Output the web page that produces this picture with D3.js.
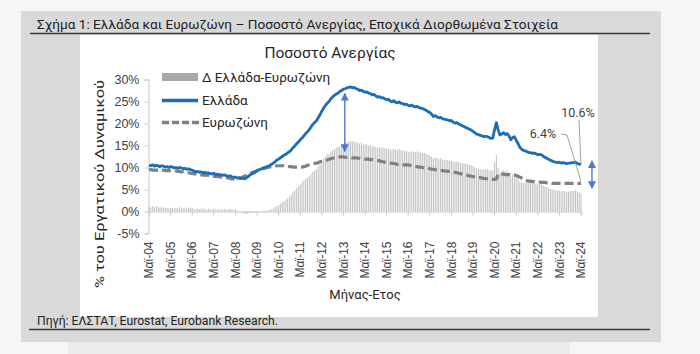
<!DOCTYPE html>
<html>
<head>
<meta charset="utf-8">
<script src="https://cdn.jsdelivr.net/npm/d3@7"></script>
<style>
	body { margin: 0; background: #f6f6f6; }
	svg { display: block; font-family: Roboto, "Noto Sans", sans-serif; }
</style>
</head>
<body>
<svg id="chart" width="700" height="354"></svg>
<script>
// Monthly, seasonally adjusted, May 2004 - May 2024
const greece = [
	10.5, 10.4, 10.6, 10.3, 10.5, 10.4, 10.2, 10.4, // 2004 May-Dec
	10.3, 10.1, 10.2, 10.0, 10.2, 10.1, 9.9, 10.0, 9.8, 10.0, 9.9, 9.7, // 2005
	9.8, 9.6, 9.7, 9.5, 9.4, 9.2, 9.0, 9.1, 8.9, 9.0, 8.8, 8.9, // 2006
	8.7, 8.8, 8.6, 8.5, 8.7, 8.4, 8.5, 8.3, 8.4, 8.2, 8.3, 8.1, // 2007
	8.0, 8.1, 7.9, 7.8, 7.8, 7.6, 7.7, 7.5, 7.6, 7.4, 7.6, 7.9, // 2008
	8.3, 8.5, 8.7, 8.9, 9.3, 9.5, 9.6, 9.8, 10.0, 10.1, 10.3, 10.4, // 2009
	10.7, 11.0, 11.3, 11.7, 11.9, 12.2, 12.5, 12.8, 13.0, 13.3, 13.6, 14.0, // 2010
	14.5, 14.9, 15.4, 15.8, 16.3, 16.7, 17.2, 17.7, 18.1, 18.6, 19.2, 19.8, // 2011
	20.2, 20.6, 21.3, 22.0, 22.8, 23.5, 24.1, 24.6, 25.0, 25.6, 26.0, 26.4, // 2012
	26.7, 26.9, 27.3, 27.5, 27.8, 27.9, 28.1, 28.2, 28.3, 28.1, 28.2, 27.9, // 2013
	27.8, 27.5, 27.6, 27.3, 27.1, 27.2, 26.9, 26.8, 26.5, 26.6, 26.3, 26.0, // 2014
	26.1, 25.8, 25.9, 25.6, 25.4, 25.5, 25.1, 24.9, 25.2, 24.8, 24.7, 24.9, // 2015
	24.6, 24.5, 24.3, 24.4, 24.1, 24.0, 24.2, 23.9, 23.8, 23.9, 23.6, 23.5, // 2016
	23.4, 23.2, 23.0, 22.7, 22.5, 22.1, 21.6, 21.8, 21.5, 21.3, 21.4, 21.1, // 2017
	21.0, 20.9, 20.8, 20.6, 20.7, 20.3, 20.1, 20.2, 19.9, 19.7, 19.5, 19.3, // 2018
	19.1, 18.9, 18.7, 18.5, 18.2, 17.9, 17.6, 17.5, 17.3, 17.2, 17.0, 17.1, // 2019
	17.0, 16.8, 16.6, 16.7, 18.6, 20.2, 18.5, 17.4, 17.6, 17.9, 17.5, 17.7, // 2020
	17.2, 16.3, 16.8, 17.0, 16.2, 15.5, 14.6, 14.2, 13.9, 13.8, 13.6, 13.4, // 2021
	13.4, 13.2, 13.3, 13.1, 12.9, 13.0, 12.9, 12.6, 12.3, 12.1, 11.9, 11.6, // 2022
	11.5, 11.3, 11.2, 11.1, 11.2, 11.0, 11.1, 11.0, 10.9, 11.0, 11.0, 11.1, // 2023
	11.1, 11.2, 10.9, 10.8, 10.6 // 2024 Jan-May
];

const eurozone = [
	9.5, 9.5, 9.4, 9.4, 9.4, 9.4, 9.3, 9.4, // 2004 May-Dec
	9.4, 9.3, 9.3, 9.3, 9.3, 9.3, 9.2, 9.2, 9.1, 9.1, 9.0, 9.0, // 2005
	8.9, 8.9, 8.8, 8.7, 8.6, 8.6, 8.5, 8.4, 8.4, 8.3, 8.3, 8.2, // 2006
	8.3, 8.2, 8.1, 8.1, 8.0, 8.0, 7.9, 7.9, 7.8, 7.8, 7.7, 7.7, // 2007
	7.6, 7.5, 7.4, 7.4, 7.3, 7.4, 7.5, 7.6, 7.8, 8.0, 8.2, 8.4, // 2008
	8.6, 8.8, 9.0, 9.1, 9.2, 9.4, 9.5, 9.7, 9.8, 9.9, 10.0, 10.1, // 2009
	10.2, 10.3, 10.3, 10.4, 10.4, 10.4, 10.4, 10.4, 10.3, 10.3, 10.2, 10.2, // 2010
	10.1, 10.1, 10.1, 10.1, 10.1, 10.1, 10.2, 10.3, 10.5, 10.6, 10.7, 10.8, // 2011
	10.9, 11.0, 11.1, 11.3, 11.4, 11.5, 11.6, 11.7, 11.9, 12.0, 12.1, 12.2, // 2012
	12.2, 12.3, 12.4, 12.4, 12.4, 12.3, 12.3, 12.3, 12.3, 12.2, 12.2, 12.2, // 2013
	12.1, 12.1, 12.0, 12.0, 11.9, 11.9, 11.9, 11.8, 11.8, 11.7, 11.7, 11.6, // 2014
	11.5, 11.4, 11.3, 11.2, 11.2, 11.1, 11.0, 11.0, 10.9, 10.8, 10.7, 10.7, // 2015
	10.6, 10.6, 10.6, 10.6, 10.6, 10.5, 10.4, 10.3, 10.2, 10.2, 10.1, 10.1, // 2016
	10.0, 9.9, 9.9, 9.8, 9.7, 9.6, 9.6, 9.5, 9.4, 9.4, 9.3, 9.3, // 2017
	9.2, 9.2, 9.1, 9.1, 9.1, 9.0, 8.9, 8.8, 8.7, 8.6, 8.5, 8.4, // 2018
	8.3, 8.2, 8.1, 8.0, 7.9, 7.9, 7.8, 7.7, 7.7, 7.6, 7.5, 7.5, // 2019
	7.4, 7.4, 7.3, 7.3, 7.3, 7.4, 8.5, 8.6, 8.5, 8.5, 8.4, 8.4, // 2020
	8.4, 8.3, 8.3, 8.3, 8.2, 8.0, 7.8, 7.6, 7.4, 7.2, 7.0, 6.9, // 2021
	6.9, 6.8, 6.8, 6.7, 6.7, 6.7, 6.6, 6.6, 6.6, 6.5, 6.5, 6.5, // 2022
	6.4, 6.4, 6.4, 6.4, 6.4, 6.4, 6.4, 6.4, 6.4, 6.4, 6.4, 6.4, // 2023
	6.4, 6.4, 6.4, 6.4, 6.4 // 2024 Jan-May
];

const tickLabels = [
	"Μαϊ-04", "Μαϊ-05", "Μαϊ-06", "Μαϊ-07", "Μαϊ-08", "Μαϊ-09", "Μαϊ-10",
	"Μαϊ-11", "Μαϊ-12", "Μαϊ-13", "Μαϊ-14", "Μαϊ-15", "Μαϊ-16", "Μαϊ-17",
	"Μαϊ-18", "Μαϊ-19", "Μαϊ-20", "Μαϊ-21", "Μαϊ-22", "Μαϊ-23", "Μαϊ-24"
];
const yTicks = [-5, 0, 5, 10, 15, 20, 25, 30];
const seriesNames = ["Δ Ελλάδα-Ευρωζώνη", "Ελλάδα", "Ευρωζώνη"];

const blue = "#1c6db5";
const grey = "#808080";
const barGrey = "#c3c3c3";
const arrowBlue = "#4f78c8";

const months = d3.timeMonth.range(new Date(2004, 4, 1), new Date(2024, 5, 1));
const data = months.map((m, i) => ({
	m,
	gr: greece[i],
	ez: eurozone[i],
	diff: greece[i] - eurozone[i],
}));
const mays = months.filter((m) => m.getMonth() === 4);

const svg = d3.select("#chart");

// Frame: grey panel, white chart area, captions
svg.append("rect").attr("x", 21).attr("y", 11).attr("width", 640).attr("height", 331).attr("fill", "#d9d9d9");
svg.append("rect").attr("x", 68).attr("y", 342).attr("width", 502).attr("height", 12).attr("fill", "#ebebeb");
svg.append("rect").attr("x", 80).attr("y", 35).attr("width", 518).attr("height", 282).attr("fill", "#fff");

svg.append("text")
	.attr("x", 37).attr("y", 29)
	.attr("font-size", 13).attr("fill", "#222")
	.attr("textLength", 521).attr("lengthAdjust", "spacingAndGlyphs")
	.text("Σχήμα 1: Ελλάδα και Ευρωζώνη – Ποσοστό Ανεργίας, Εποχικά Διορθωμένα Στοιχεία");
svg.append("line").attr("x1", 30).attr("x2", 650).attr("y1", 33.5).attr("y2", 33.5)
	.attr("stroke", "#3a3a3a").attr("stroke-width", 1.3);

svg.append("text")
	.attr("x", 37).attr("y", 325)
	.attr("font-size", 12).attr("fill", "#222")
	.attr("textLength", 241).attr("lengthAdjust", "spacingAndGlyphs")
	.text("Πηγή: ΕΛΣΤΑΤ, Eurostat, Eurobank Research.");
svg.append("line").attr("x1", 29).attr("x2", 650).attr("y1", 329.5).attr("y2", 329.5)
	.attr("stroke", "#3a3a3a").attr("stroke-width", 1.3);

// Scales
const x = d3.scaleBand().domain(months).range([148.5, 581.5]).paddingInner(0.4);
const cx = (d) => x(d) + x.bandwidth() / 2;
const y = d3.scaleLinear().domain([-5, 30]).range([233.5, 79.5]);

svg.append("text")
	.attr("x", 330).attr("y", 58)
	.attr("text-anchor", "middle")
	.attr("font-size", 15.5).attr("fill", "#262626")
	.text("Ποσοστό Ανεργίας");

// Y axis
const yAxis = svg.append("g")
	.attr("transform", `translate(${x.range()[0]},0)`)
	.call(d3.axisLeft(y).tickValues(yTicks).tickSize(4).tickPadding(5).tickFormat((d) => `${d}%`));
yAxis.select(".domain").attr("stroke", "#c8c8c8");
yAxis.selectAll(".tick line").attr("stroke", "#c8c8c8");
yAxis.selectAll("text").attr("font-size", 12.5).attr("fill", "#404040").attr("font-family", null);

svg.append("text")
	.attr("transform", "translate(104,184) rotate(-90)")
	.attr("text-anchor", "middle")
	.attr("font-size", 13.5).attr("fill", "#262626")
	.attr("textLength", 208).attr("lengthAdjust", "spacingAndGlyphs")
	.text("% του Εργατικού Δυναμικού");

// Bars: Greece minus Eurozone
svg.append("g")
	.attr("fill", barGrey)
	.selectAll("rect")
	.data(data)
	.join("rect")
	.attr("x", (d) => x(d.m))
	.attr("width", x.bandwidth())
	.attr("y", (d) => y(Math.max(0, d.diff)))
	.attr("height", (d) => Math.abs(y(d.diff) - y(0)));

// X axis at 0 (ticks only) and labels at the bottom of the plot
const xAxis = svg.append("g")
	.attr("transform", `translate(0,${y(0)})`)
	.call(d3.axisBottom(x).tickValues(mays).tickSize(4).tickFormat(""));
xAxis.select(".domain").attr("stroke", "#c8c8c8");
xAxis.selectAll(".tick line").attr("stroke", "#c8c8c8");

const xLabels = svg.append("g")
	.attr("transform", `translate(0,${y(-5)})`)
	.call(d3.axisBottom(x).tickValues(mays).tickSize(0).tickFormat((d, i) => tickLabels[i]));
xLabels.select(".domain").remove();
xLabels.selectAll("text")
	.attr("font-size", 12).attr("fill", "#404040").attr("font-family", null)
	.attr("transform", "rotate(-90)")
	.attr("text-anchor", "end")
	.attr("x", -8).attr("y", 0).attr("dy", "0.35em");

svg.append("text")
	.attr("x", 365).attr("y", 299)
	.attr("text-anchor", "middle")
	.attr("font-size", 13).attr("fill", "#262626")
	.text("Μήνας-Ετος");

// Lines
const line = (key) => d3.line().x((d) => cx(d.m)).y((d) => y(d[key]));

svg.append("path")
	.datum(data)
	.attr("fill", "none")
	.attr("stroke", grey)
	.attr("stroke-width", 3.2)
	.attr("stroke-dasharray", "9,4")
	.attr("d", line("ez"));

svg.append("path")
	.datum(data)
	.attr("fill", "none")
	.attr("stroke", blue)
	.attr("stroke-width", 2.8)
	.attr("stroke-linejoin", "round")
	.attr("d", line("gr"));

// Arrows
const defs = svg.append("defs");
defs.append("marker")
	.attr("id", "head")
	.attr("viewBox", "0 0 10 10")
	.attr("refX", 9).attr("refY", 5)
	.attr("markerWidth", 8).attr("markerHeight", 9)
	.attr("markerUnits", "userSpaceOnUse")
	.attr("orient", "auto-start-reverse")
	.append("path")
	.attr("d", "M0,0L10,5L0,10Z")
	.attr("fill", arrowBlue);

const arrow = (ax, y1, y2) => svg.append("line")
	.attr("x1", ax).attr("x2", ax).attr("y1", y1).attr("y2", y2)
	.attr("stroke", arrowBlue).attr("stroke-width", 1.4)
	.attr("marker-start", "url(#head)").attr("marker-end", "url(#head)");

const peak = data[111];
arrow(cx(peak.m) - 4, y(peak.gr) + 6, y(peak.ez) - 6);
const last = data[data.length - 1];
arrow(cx(last.m) + 11, y(last.gr) - 4, y(last.ez) + 5);

// Annotations for the latest values
const lx = cx(last.m);
svg.append("text")
	.attr("x", lx - 3).attr("y", 117)
	.attr("text-anchor", "middle")
	.attr("font-size", 12.5).attr("fill", "#404040")
	.text(`${last.gr.toFixed(1)}%`);
svg.append("polyline")
	.attr("points", `${lx - 2},120 ${lx},${y(last.gr) - 1}`)
	.attr("fill", "none").attr("stroke", "#8c8c8c").attr("stroke-width", 0.8);

svg.append("text")
	.attr("x", lx - 38).attr("y", 138)
	.attr("text-anchor", "middle")
	.attr("font-size", 12.5).attr("fill", "#404040")
	.text(`${last.ez.toFixed(1)}%`);
svg.append("polyline")
	.attr("points", `${lx - 20},134 ${lx - 14},135 ${lx},${y(last.ez) - 2}`)
	.attr("fill", "none").attr("stroke", "#8c8c8c").attr("stroke-width", 0.8);

// Legend
const legend = svg.append("g").attr("transform", "translate(162,0)");
legend.append("rect").attr("x", 0).attr("y", 73).attr("width", 36).attr("height", 8).attr("fill", "#a9a9a9");
legend.append("line").attr("x1", 0).attr("x2", 36).attr("y1", 100.5).attr("y2", 100.5)
	.attr("stroke", blue).attr("stroke-width", 3.5);
legend.append("line").attr("x1", 0).attr("x2", 38).attr("y1", 122.5).attr("y2", 122.5)
	.attr("stroke", grey).attr("stroke-width", 3.5).attr("stroke-dasharray", "7,3");
legend.selectAll("text")
	.data(seriesNames)
	.join("text")
	.attr("x", 40)
	.attr("y", (d, i) => [77, 100.5, 122.5][i])
	.attr("dy", "0.35em")
	.attr("font-size", 13.5).attr("fill", "#262626")
	.text((d) => d);
</script>
</body>
</html>
